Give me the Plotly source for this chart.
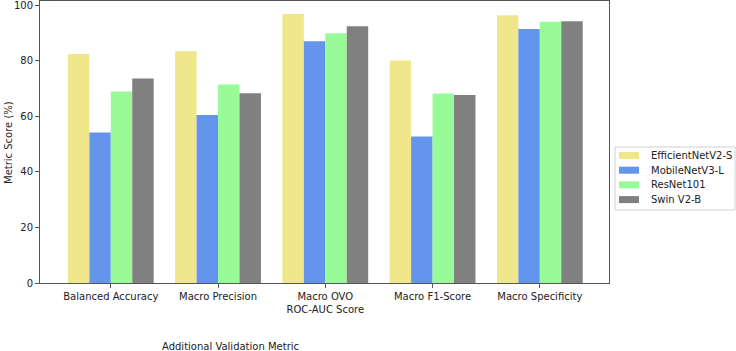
import plotly.graph_objects as go

categories = ["Balanced Accuracy", "Macro Precision", "Macro OVO<br>ROC-AUC Score",
              "Macro F1-Score", "Macro Specificity"]
models = ["EfficientNetV2-S", "MobileNetV3-L", "ResNet101", "Swin V2-B"]
efficientnet = [82.5, 83.5, 96.9, 80.2, 96.5]
mobilenet = [54.2, 60.5, 87.1, 52.8, 91.5]
resnet = [69.0, 71.5, 90.0, 68.3, 94.1]
swin = [73.7, 68.4, 92.5, 67.7, 94.3]
colors = ["#F0E68C", "#6495ED", "#98FB98", "#808080"]
yticks = [0, 20, 40, 60, 80, 100]

fig = go.Figure()
for name, vals, c in zip(models, [efficientnet, mobilenet, resnet, swin], colors):
    fig.add_trace(go.Bar(x=list(range(len(categories))), y=vals, name=name,
                         showlegend=False,
                         marker=dict(color=c, line=dict(width=0))))

L, R, T, B = 40, 127, 1, 68
W, H = 736, 351
pw = W - L - R
ph = H - T - B

def px(x):
    return (x - L) / pw

def py(y):
    return (H - B - y) / ph

font = "DejaVu Sans, sans-serif"

# legend drawn in paper space (pixel positions converted)
shapes = [dict(type="rect", xref="paper", yref="paper",
               x0=px(615), x1=px(735), y0=py(147), y1=py(210),
               line=dict(color="#d0d0d0", width=1), fillcolor="white", layer="above")]
annotations = []
row_y = [155.5, 170.2, 184.9, 199.6]
for name, c, ry in zip(models, colors, row_y):
    shapes.append(dict(type="rect", xref="paper", yref="paper",
                       x0=px(619), x1=px(639), y0=py(ry - 3.5), y1=py(ry + 3.5),
                       line=dict(width=0), fillcolor=c, layer="above"))
    annotations.append(dict(text=name, x=px(649), y=py(ry), xref="paper", yref="paper",
                            xanchor="left", yanchor="middle", showarrow=False,
                            font=dict(size=10)))

annotations += [
    dict(text="Metric Score (%)", x=px(8), y=py(143), xref="paper", yref="paper",
         xanchor="center", yanchor="middle",
         showarrow=False, textangle=-90, font=dict(size=10)),
    dict(text="Additional Validation Metric", x=px(230), y=py(346), showarrow=False,
         xanchor="center", yanchor="middle",
         xref="paper", yref="paper", font=dict(size=10)),
]

fig.update_layout(
    width=W, height=H,
    margin=dict(l=L, r=R, t=T, b=B, autoexpand=False),
    plot_bgcolor="white", paper_bgcolor="white",
    barmode="group", bargap=0.2, bargroupgap=0,
    font=dict(family=font, size=10, color="#222"),
    showlegend=False,
    xaxis=dict(range=[-0.66, 4.645], tickmode="array",
               tickvals=list(range(len(categories))), ticktext=categories,
               showgrid=False, zeroline=False, showline=True, linecolor="#555",
               linewidth=1, mirror=True, ticks="outside", ticklen=4,
               tickcolor="#555", tickfont=dict(size=10), automargin=False),
    yaxis=dict(range=[0, 101.6], tickmode="array", tickvals=yticks,
               showgrid=False, zeroline=False, showline=True, linecolor="#555",
               linewidth=1, mirror=True, ticks="outside", ticklen=4,
               tickcolor="#555", tickfont=dict(size=10), automargin=False,
               ticklabeloverflow="allow"),
    shapes=shapes,
    annotations=annotations,
)
fig.write_html("out.html")
